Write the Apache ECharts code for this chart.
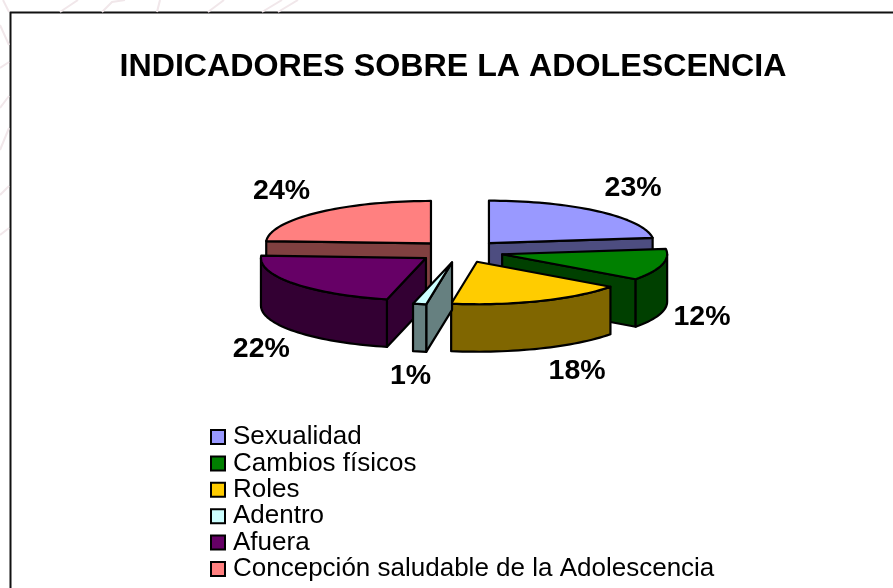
<!DOCTYPE html>
<html>
<head>
<meta charset="utf-8">
<style>
  html, body { margin: 0; padding: 0; background: #fff; }
  #chart { width: 893px; height: 588px; }
</style>
<script src="https://cdn.jsdelivr.net/npm/echarts@6/dist/echarts.min.js"></script>
</head>
<body>
<div id="chart"></div>
<script>
const TITLE = 'INDICADORES SOBRE LA ADOLESCENCIA'
const NAMES = ['Sexualidad', 'Cambios físicos', 'Roles', 'Adentro', 'Afuera', 'Concepción saludable de la Adolescencia']
// shares, they round to the printed percentages
const VALUES = [23, 12, 17.5, 1.3, 22.1, 24.1]

const TOP_COLORS = ['#9999ff', '#008000', '#ffcc00', '#ccffff', '#660066', '#ff8080']
const WALL_COLORS = ['#4d4d80', '#004000', '#806600', '#668080', '#330033', '#804040']
const LAYERS = [2, 3, 5, 6, 4, 2]
// label offset from the middle of each slice's rim
const LABEL_OFFSETS = [[35, -23], [40, 52], [37, 70], [-9, 72], [-32, 66], [-36, -21]]

// pie projection
const CX = 460.5, CY = 251.5, RX = 165, RY = 42.5, DEPTH = 47.5, EXPLODE = 43
const STROKE = '#000', STROKE_W = 2.2
const FONT = '"Liberation Sans", Arial, sans-serif'

const total = VALUES.reduce((a, b) => a + b, 0)
const rad = d => d * Math.PI / 180
const ringPt = (ox, oy, deg) => [ox + RX * Math.sin(rad(deg)), oy - RY * Math.cos(rad(deg))]

function arcPts(ox, oy, from, to) {
  const pts = []
  const n = Math.max(2, Math.ceil((to - from) / 2))
  for (let i = 0; i <= n; i++) pts.push(ringPt(ox, oy, from + (to - from) * i / n))
  return pts
}

function sliceFaces(idx) {
  const before = VALUES.slice(0, idx).reduce((a, b) => a + b, 0)
  const a1 = before / total * 360
  const a2 = (before + VALUES[idx]) / total * 360
  const mid = (a1 + a2) / 2
  const ox = CX + EXPLODE * Math.sin(rad(mid))
  const oy = CY - EXPLODE * RY / RX * Math.cos(rad(mid))
  const style = fill => ({ fill, stroke: STROKE, lineWidth: STROKE_W, lineJoin: 'round' })
  const down = p => [p[0], p[1] + DEPTH]
  const faces = []

  // flat cut walls, only the ones turned towards the viewer
  const cutWall = deg => {
    const edge = ringPt(ox, oy, deg)
    faces.push({ type: 'polygon', shape: { points: [[ox, oy], edge, down(edge), [ox, oy + DEPTH]] }, style: style(WALL_COLORS[idx]) })
  }
  if (a1 > 180 && a1 < 360) cutWall(a1)
  if (a2 > 0 && a2 < 180) cutWall(a2)

  // curved outer wall, front half only
  const f = Math.max(a1, 90), t = Math.min(a2, 270)
  if (t > f) {
    const rim = arcPts(ox, oy, f, t)
    faces.push({ type: 'polygon', shape: { points: rim.concat(rim.map(down).reverse()) }, style: style(WALL_COLORS[idx]) })
  }

  // top surface
  faces.push({ type: 'polygon', shape: { points: [[ox, oy]].concat(arcPts(ox, oy, a1, a2)) }, style: style(TOP_COLORS[idx]) })

  // percentage label
  const rim = ringPt(ox, oy, mid)
  faces.push({
    type: 'text',
    x: rim[0] + LABEL_OFFSETS[idx][0],
    y: rim[1] + LABEL_OFFSETS[idx][1],
    style: {
      text: Math.round(VALUES[idx] / total * 100) + '%',
      font: 'bold 28.5px ' + FONT,
      fill: '#000',
      align: 'center',
      verticalAlign: 'middle'
    }
  })
  return { type: 'group', children: faces }
}

// faint wallpaper strokes outside the frame
const WALLPAPER = [
  [[3, 0], [9, 12]], [[60, 12], [78, 0]], [[102, 12], [112, 2], [125, 0]], [[157, 12], [160, 0]],
  [[208, 12], [224, 0]], [[262, 12], [282, 0]], [[278, 12], [298, 0]],
  [[0, 25], [9, 45]], [[0, 68], [9, 62]], [[0, 108], [9, 96]], [[0, 150], [9, 128]],
  [[0, 195], [9, 186]], [[0, 235], [9, 228]]
]

const chart = echarts.init(document.getElementById('chart'), null, { renderer: 'canvas' })
chart.setOption({
  animation: false,
  backgroundColor: '#fff',
  title: {
    text: TITLE,
    left: 452,
    top: 46,
    textAlign: 'center',
    textStyle: { color: '#000', fontFamily: FONT, fontWeight: 'bold', fontSize: 32.2 }
  },
  legend: {
    data: NAMES,
    orient: 'vertical',
    left: 210,
    top: 424,
    padding: 0,
    itemWidth: 14,
    itemHeight: 14,
    itemGap: 0.4,
    icon: 'rect',
    selectedMode: false,
    itemStyle: { borderColor: '#000', borderWidth: 2 },
    textStyle: { color: '#000', fontFamily: FONT, fontSize: 26, lineHeight: 26, padding: [0, 0, 0, 3] }
  },
  graphic: [
    ...WALLPAPER.map(points => ({
      type: 'polyline',
      silent: true,
      shape: { points },
      style: { stroke: '#f1e7ea', lineWidth: 2, fill: null }
    })),
    {
      type: 'rect',
      silent: true,
      shape: { x: 10.5, y: 12.5, width: 1000, height: 700 },
      style: { fill: '#fff', stroke: '#111', lineWidth: 2 },
      z: -1
    }
  ],
  series: NAMES.map((name, i) => ({
    type: 'custom',
    name,
    coordinateSystem: 'none',
    silent: true,
    z: LAYERS[i],
    itemStyle: { color: TOP_COLORS[i] },
    data: [[VALUES[i]]],
    renderItem: () => sliceFaces(i)
  }))
})
// title box is measured around its centre, nudge it onto the reference's left edge
chart.setOption({ title: { left: 448 } })
</script>
</body>
</html>
